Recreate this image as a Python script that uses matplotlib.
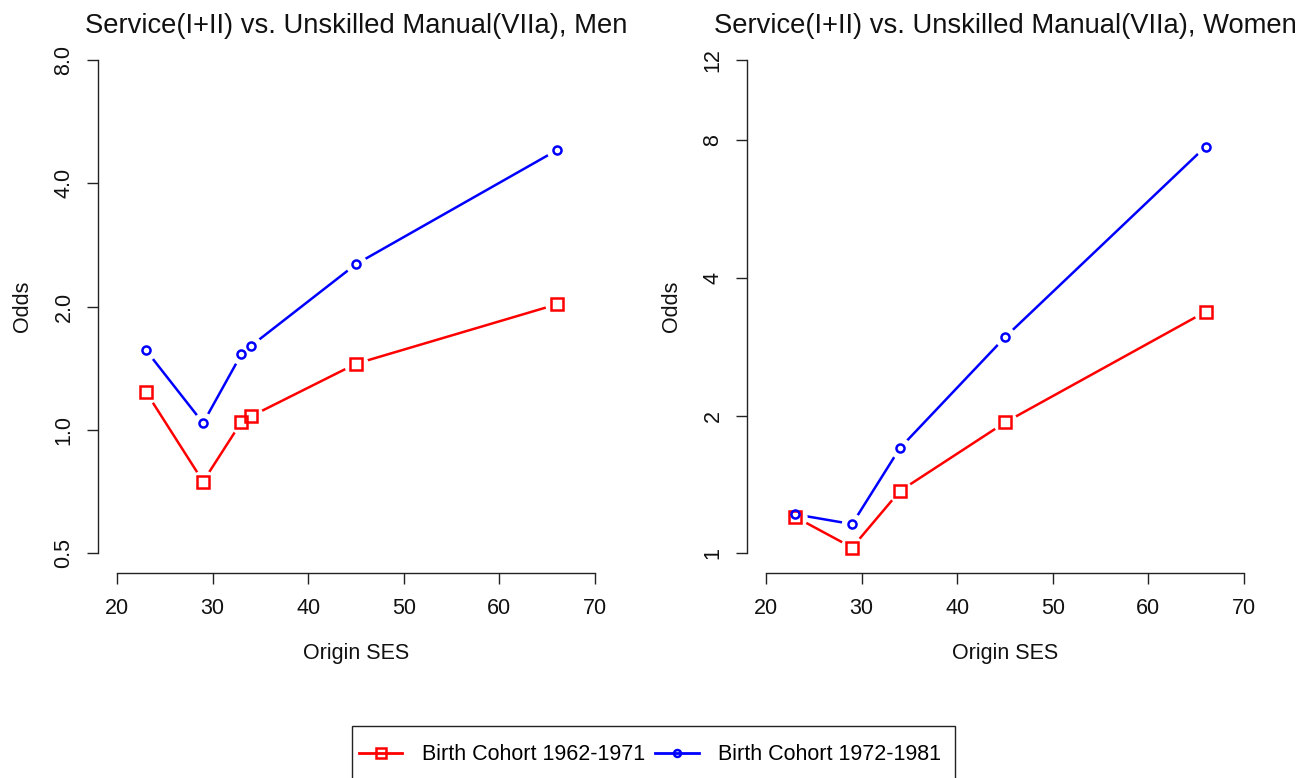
import numpy as np
import matplotlib
matplotlib.use("Agg")
import matplotlib.pyplot as plt
from matplotlib.lines import Line2D
from matplotlib.patches import Rectangle

plt.rcParams['font.family'] = ['Liberation Sans', 'DejaVu Sans']

# ---- data ----
men_x = [23, 29, 33, 34, 45, 66]
men_old = [1.24, 0.748, 1.045, 1.079, 1.45, 2.024]
men_young = [1.567, 1.039, 1.530, 1.602, 2.537, 4.81]

women_x = [23, 29, 34, 45, 66]
women_old = [1.202, 1.029, 1.368, 1.932, 3.375]
women_young = [1.217, 1.158, 1.698, 2.967, 7.75]

men_yticks = [0.5, 1.0, 2.0, 4.0, 8.0]
men_yticklabels = ["0.5", "1.0", "2.0", "4.0", "8.0"]
women_yticks = [1, 2, 4, 8, 12]
women_yticklabels = ["1", "2", "4", "8", "12"]
xticks = [20, 30, 40, 50, 60, 70]

titles = ["Service(I+II) vs. Unskilled Manual(VIIa), Men",
          "Service(I+II) vs. Unskilled Manual(VIIa), Women"]
legend_labels = ["Birth Cohort 1962-1971", "Birth Cohort 1972-1981"]

RED = '#FF0000'
BLUE = '#0000FF'

W, H = 1309, 778
fig = plt.figure(figsize=(W / 100, H / 100), dpi=100)

def ax_rect(x0, x1, ytop, ybot):
    return [x0 / W, 1 - ybot / H, (x1 - x0) / W, (ybot - ytop) / H]

ax1 = fig.add_axes(ax_rect(98, 614, 40, 573))
ax2 = fig.add_axes(ax_rect(747, 1263, 40, 573))

def style(ax, x, old, young, yticks, yticklabels, title):
    series = [(old, RED, 's', 8.0, 17.5), (young, BLUE, 'o', 5.8, 15.5)]
    # type="b" style: lines with gaps around points
    for ys, col, mk, ms, gap in series:
        ax.plot(x, ys, '-', color=col, lw=1.8, zorder=2, solid_capstyle='butt')
    for ys, col, mk, ms, gap in series:
        ax.plot(x, ys, linestyle='none', marker='o', ms=gap, mfc='white', mec='none', zorder=3)
    for ys, col, mk, ms, gap in series:
        ax.plot(x, ys, linestyle='none', marker=mk, ms=ms, mfc='none', mec=col, mew=1.8, zorder=4)
    ax.set_yscale('log')
    lo, hi = yticks[0], yticks[-1]
    ext = 0.04 * (np.log10(hi) - np.log10(lo))
    ax.set_ylim(lo / 10 ** ext, hi * 10 ** ext)
    ax.set_xlim(18, 72)
    ax.set_yticks(yticks)
    ax.set_yticklabels(yticklabels, rotation=90, va='center')
    ax.yaxis.set_minor_locator(matplotlib.ticker.NullLocator())
    ax.set_xticks(xticks)
    ax.set_xticklabels([str(t) for t in xticks])
    for s in ['top', 'right']:
        ax.spines[s].set_visible(False)
    ax.spines['left'].set_bounds(lo, hi)
    ax.spines['bottom'].set_bounds(xticks[0], xticks[-1])
    for s in ['left', 'bottom']:
        ax.spines[s].set_linewidth(1.0)
        ax.spines[s].set_color('#222222')
    ax.tick_params(axis='both', direction='out', length=8, width=1.0, color='#222222',
                   labelsize=15.5, labelcolor='#111111')
    ax.tick_params(axis='x', pad=10)
    ax.tick_params(axis='y', pad=9)
    ax.set_xlabel("Origin SES", fontsize=15.5, labelpad=17, color='#111111')
    ax.set_ylabel("Odds", fontsize=15.5, labelpad=15, color='#111111')
    ax.set_title(title, fontsize=19.7, pad=5, color='#111111')
    ax.patch.set_visible(False)

style(ax1, men_x, men_old, men_young, men_yticks, men_yticklabels, titles[0])
style(ax2, women_x, women_old, women_young, women_yticks, women_yticklabels, titles[1])

handles = [Line2D([], [], color=RED, lw=2.0, marker='s', ms=7.0, mfc='none', mec=RED, mew=1.8),
           Line2D([], [], color=BLUE, lw=2.0, marker='o', ms=5.0, mfc='none', mec=BLUE, mew=1.8)]
fig.legend(handles, legend_labels, ncol=2, frameon=False, loc='center',
           bbox_to_anchor=(650 / W, 1 - 755 / H), fontsize=15.5,
           handlelength=2.0, handletextpad=0.9, columnspacing=0.5)
fig.add_artist(Rectangle((352 / W, -0.05), 603 / W, 0.05 + (1 - 726 / H),
                         transform=fig.transFigure, fill=False, edgecolor='#222222', lw=1.0))

fig.savefig("out.png", dpi=100)
